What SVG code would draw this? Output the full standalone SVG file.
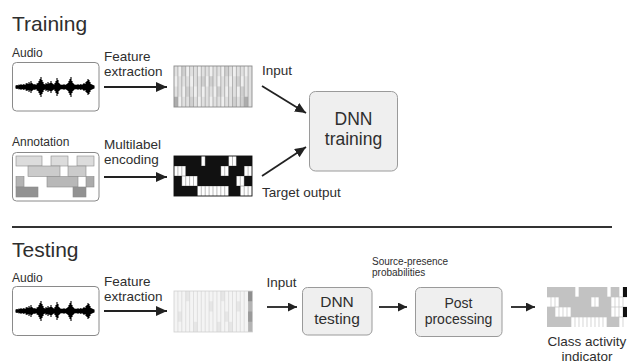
<svg xmlns="http://www.w3.org/2000/svg" width="630" height="363" viewBox="0 0 630 363">
  <style>
    text { font-family: "Liberation Sans", Arial, sans-serif; fill: #2e2e2e; }
    .title { font-size: 21px; }
    .small { font-size: 12px; }
    .lbl { font-size: 13.5px; }
    .tiny { font-size: 10px; }
    .frame { fill: #ffffff; stroke: #8a8a8a; stroke-width: 1; }
    .proc { fill: #efefef; stroke: #9a9a9a; stroke-width: 1; }
    .conn { stroke: #222222; stroke-width: 1.8; fill: none; }
    .big { marker-end: url(#head); }
    .sm { marker-end: url(#headS); }
    .ann { stroke: #8a8a8a; stroke-width: 0.6; }
    .fl { fill: #efefef; }
    .fd { fill: #cfcfcf; }
    .fx { fill: #acacac; }
    .on { fill: #111111; }
    .gr { fill: #c2c2c2; }
  </style>
  <defs>
    <marker id="head" markerUnits="userSpaceOnUse" markerWidth="11" markerHeight="10" refX="11" refY="5" orient="auto">
      <path d="M0,0 L11,5 L0,10 z" fill="#222222"/>
    </marker>
    <marker id="headS" markerUnits="userSpaceOnUse" markerWidth="9" markerHeight="9" refX="9" refY="4.5" orient="auto">
      <path d="M0,0 L9,4.5 L0,9 z" fill="#222222"/>
    </marker>
    <!-- audio waveform drawn around y = 0 -->
    <g id="wave" stroke="#000000" fill="none">
      <path d="M16 0H94" stroke-width="2.4"/>
      <path stroke-width="1.1" d="M16-1.5v3M17-2v4M18-1.5v3M19-2.5v5M20-2v4M21-3v6M22-2v4M23-2.5v5M24-3v6M25-2v4M26-3.5v7M27-4v8M28-3v6M29-5v10M30-3.5v7M31-6v12M32-4v8M33-3v6M34-2.5v5M35-3v6M36-2v4M37-3.5v7M38-4v8M39-6v12M40-8v16M41-10v20M42-7v14M43-5v10M44-3v6M45-2.5v5M46-4v8M47-3v6M48-5v10M49-3.5v7M50-4v8M51-6v12M52-4v8M53-3v6M54-2.5v5M55-4v8M56-6v12M57-9v18M58-7v14M59-4v8M60-3v6M61-2v4M62-2.5v5M63-2v4M64-3v6M65-2v4M66-2.5v5M67-3v6M68-4v8M69-6v12M70-8v16M71-10v20M72-6v12M73-4v8M74-3v6M75-2v4M76-2.5v5M77-2v4M78-3v6M79-2v4M80-2.5v5M81-3v6M82-2v4M83-3v6M84-4v8M85-3v6M86-5v10M87-6v12M88-8v16M89-7v14M90-5v10M91-3v6M92-2.5v5M93-2v4M94-1.5v3"/>
    </g>
  </defs>

  <rect width="630" height="363" fill="#ffffff"/>

  <!-- section headings -->
  <text class="title" x="12" y="31">Training</text>
  <text class="title" x="12" y="257">Testing</text>
  <path d="M12 227H612" stroke="#333333" stroke-width="2"/>

  <!-- training: audio input -->
  <g id="train-audio">
    <text class="small" x="12" y="56.5">Audio</text>
    <rect class="frame" x="12.5" y="62.5" width="86.5" height="48.5" rx="4"/>
    <use href="#wave" transform="translate(0,87)"/>
  </g>

  <!-- training: feature matrix -->
  <g id="train-features">
    <rect x="174" y="66" width="78" height="41" fill="#e0e0e0"/>
    <g class="fl">
      <rect x="177.9" y="66" width="3.9" height="10.25"/><rect x="185.7" y="66" width="3.9" height="10.25"/><rect x="197.4" y="66" width="3.9" height="10.25"/><rect x="209.1" y="66" width="3.9" height="10.25"/><rect x="220.8" y="66" width="3.9" height="10.25"/><rect x="232.5" y="66" width="3.9" height="10.25"/><rect x="244.2" y="66" width="3.9" height="10.25"/>
      <rect x="174" y="76.25" width="3.9" height="10.25"/><rect x="189.6" y="76.25" width="3.9" height="10.25"/><rect x="205.2" y="76.25" width="3.9" height="10.25"/><rect x="216.9" y="76.25" width="3.9" height="10.25"/><rect x="228.6" y="76.25" width="3.9" height="10.25"/><rect x="240.3" y="76.25" width="3.9" height="10.25"/>
      <rect x="181.8" y="86.5" width="3.9" height="10.25"/><rect x="193.5" y="86.5" width="3.9" height="10.25"/><rect x="201.3" y="86.5" width="3.9" height="10.25"/><rect x="213" y="86.5" width="3.9" height="10.25"/><rect x="224.7" y="86.5" width="3.9" height="10.25"/><rect x="236.4" y="86.5" width="3.9" height="10.25"/>
      <rect x="177.9" y="96.75" width="3.9" height="10.25"/><rect x="197.4" y="96.75" width="3.9" height="10.25"/><rect x="209.1" y="96.75" width="3.9" height="10.25"/><rect x="220.8" y="96.75" width="3.9" height="10.25"/>
    </g>
    <g class="fd">
      <rect x="181.8" y="66" width="3.9" height="10.25"/><rect x="224.7" y="66" width="3.9" height="10.25"/>
      <rect x="201.3" y="76.25" width="3.9" height="10.25"/><rect x="209.1" y="76.25" width="3.9" height="10.25"/><rect x="236.4" y="76.25" width="3.9" height="10.25"/>
      <rect x="185.7" y="86.5" width="3.9" height="10.25"/><rect x="216.9" y="86.5" width="3.9" height="10.25"/><rect x="240.3" y="86.5" width="3.9" height="10.25"/>
      <rect x="189.6" y="96.75" width="3.9" height="10.25"/><rect x="232.5" y="96.75" width="3.9" height="10.25"/><rect x="240.3" y="96.75" width="3.9" height="10.25"/>
    </g>
    <g class="fx">
      <rect x="244.2" y="96.75" width="3.9" height="10.25"/><rect x="174" y="96.75" width="3.9" height="10.25"/>
    </g>
    <path stroke="#9c9c9c" stroke-width="0.7" d="M177.9 66v41M181.8 66v41M185.7 66v41M189.6 66v41M193.5 66v41M197.4 66v41M201.3 66v41M205.2 66v41M209.1 66v41M213 66v41M216.9 66v41M220.8 66v41M224.7 66v41M228.6 66v41M232.5 66v41M236.4 66v41M240.3 66v41M244.2 66v41M248.1 66v41"/>
    <rect x="174" y="66" width="78" height="41" fill="none" stroke="#8c8c8c" stroke-width="0.9"/>
  </g>

  <!-- training: annotation -->
  <g id="train-annotation">
    <text class="small" x="12" y="146">Annotation</text>
    <rect class="frame" x="12.5" y="152.5" width="86.5" height="48.5" rx="4"/>
    <g class="ann">
      <rect x="16" y="156" width="26" height="10" fill="#dcdcdc"/>
      <rect x="51" y="156" width="17" height="10" fill="#dcdcdc"/>
      <rect x="77" y="156" width="17" height="10" fill="#dcdcdc"/>
      <rect x="28" y="166" width="32" height="10.5" fill="#cbcbcb"/>
      <rect x="68" y="166" width="18" height="10.5" fill="#cbcbcb"/>
      <rect x="16" y="176.5" width="8" height="10.5" fill="#b4b4b4"/>
      <rect x="47" y="176.5" width="31" height="10.5" fill="#b8b8b8"/>
      <rect x="86" y="176.5" width="8" height="10.5" fill="#ababab"/>
      <rect x="16" y="187" width="22" height="10" fill="#929292"/>
      <rect x="73" y="187" width="13" height="10" fill="#929292"/>
    </g>
  </g>

  <!-- training: multilabel target matrix -->
  <g id="train-targets">
    <rect x="174" y="156" width="78" height="40" fill="#ffffff"/>
    <path stroke="#9c9c9c" stroke-width="0.7" d="M177.9 156v40M181.8 156v40M185.7 156v40M189.6 156v40M193.5 156v40M197.4 156v40M201.3 156v40M205.2 156v40M209.1 156v40M213 156v40M216.9 156v40M220.8 156v40M224.7 156v40M228.6 156v40M232.5 156v40M236.4 156v40M240.3 156v40M244.2 156v40M248.1 156v40M174 166h78M174 176h78M174 186h78"/>
    <g class="on">
      <rect x="174" y="156" width="27.3" height="10"/><rect x="205.2" y="156" width="23.4" height="10"/><rect x="236.4" y="156" width="15.6" height="10"/>
      <rect x="185.7" y="166" width="35.1" height="10"/><rect x="228.6" y="166" width="15.6" height="10"/>
      <rect x="174" y="176" width="7.8" height="10"/><rect x="197.4" y="176" width="39" height="10"/><rect x="244.2" y="176" width="7.8" height="10"/>
      <rect x="174" y="186" width="23.4" height="10"/><rect x="228.6" y="186" width="11.7" height="10"/>
    </g>
    <rect x="174" y="156" width="78" height="40" fill="none" stroke="#111111" stroke-width="0.9"/>
  </g>

  <!-- training: network -->
  <g id="train-dnn">
    <rect class="proc" x="309.5" y="91.5" width="88" height="79.5" rx="6"/>
    <text x="353.5" y="125" text-anchor="middle" style="font-size:17.5px">DNN</text>
    <text x="353.5" y="145" text-anchor="middle" style="font-size:17.5px">training</text>
  </g>

  <!-- testing: audio input -->
  <g id="test-audio">
    <text class="small" x="12" y="282">Audio</text>
    <rect class="frame" x="12.5" y="286.5" width="86.5" height="49" rx="4"/>
    <use href="#wave" transform="translate(0,311)"/>
  </g>

  <!-- testing: feature matrix -->
  <g id="test-features">
    <rect x="174" y="291" width="78" height="41" fill="#f4f4f4"/>
    <g fill="#e6e6e6">
      <rect x="185.7" y="291" width="3.9" height="10.25"/><rect x="220.8" y="291" width="3.9" height="10.25"/>
      <rect x="209.1" y="301.25" width="3.9" height="10.25"/><rect x="236.4" y="301.25" width="3.9" height="10.25"/>
      <rect x="177.9" y="311.5" width="3.9" height="10.25"/><rect x="224.7" y="311.5" width="3.9" height="10.25"/>
      <rect x="193.5" y="321.75" width="3.9" height="10.25"/><rect x="216.9" y="321.75" width="3.9" height="10.25"/><rect x="228.6" y="321.75" width="3.9" height="10.25"/>
    </g>
    <path stroke="#d6d6d6" stroke-width="0.7" d="M177.9 291v41M181.8 291v41M185.7 291v41M189.6 291v41M193.5 291v41M197.4 291v41M201.3 291v41M205.2 291v41M209.1 291v41M213 291v41M216.9 291v41M220.8 291v41M224.7 291v41M228.6 291v41M232.5 291v41M236.4 291v41M240.3 291v41M244.2 291v41"/>
    <rect x="248.1" y="291" width="4.4" height="41" fill="#b4b4b4"/>
    <rect x="248.1" y="291" width="4.4" height="10.25" fill="#8e8e8e"/>
    <rect x="248.1" y="311.5" width="4.4" height="10.25" fill="#9a9a9a"/>
    <rect x="174" y="291" width="78.5" height="41" fill="none" stroke="#cfcfcf" stroke-width="0.8"/>
  </g>

  <!-- testing: network -->
  <g id="test-dnn">
    <rect class="proc" x="302.5" y="287.5" width="69.5" height="47.5" rx="5"/>
    <text x="337" y="306.5" text-anchor="middle" style="font-size:15.5px">DNN</text>
    <text x="337" y="324" text-anchor="middle" style="font-size:15.5px">testing</text>
  </g>

  <!-- testing: post processing -->
  <g id="test-post">
    <rect class="proc" x="415.5" y="287.5" width="86.5" height="49" rx="5"/>
    <text x="458.5" y="307.5" text-anchor="middle" style="font-size:14px">Post</text>
    <text x="458.5" y="324" text-anchor="middle" style="font-size:14px">processing</text>
  </g>

  <!-- testing: class activity output -->
  <g id="test-output">
    <rect x="547" y="287" width="80" height="40" fill="#ffffff"/>
    <path stroke="#c4c4c4" stroke-width="0.7" d="M551 287v40M555 287v40M559 287v40M563 287v40M567 287v40M571 287v40M575 287v40M579 287v40M583 287v40M587 287v40M591 287v40M595 287v40M599 287v40M603 287v40M607 287v40M611 287v40M615 287v40M619 287v40M623 287v40M547 297h80M547 307h80M547 317h80"/>
    <g class="gr">
      <rect x="547" y="287" width="28" height="10"/><rect x="579" y="287" width="28" height="10"/><rect x="611" y="287" width="8" height="10"/>
      <rect x="559" y="297" width="32" height="10"/><rect x="599" y="297" width="12" height="10"/>
      <rect x="547" y="307" width="8" height="10"/><rect x="571" y="307" width="40" height="10"/>
      <rect x="547" y="317" width="24" height="10"/><rect x="607" y="317" width="12" height="10"/>
    </g>
    <rect x="623" y="287" width="4" height="10" class="on"/>
    <rect x="623" y="307" width="4" height="10" class="on"/>
    <text class="lbl" x="587" y="346" text-anchor="middle">Class activity</text>
    <text class="lbl" x="587" y="361.2" text-anchor="middle">indicator</text>
  </g>

  <!-- connectors and their labels -->
  <g id="connectors">
    <path class="conn big" d="M104 87H167"/>
    <text class="lbl" x="104" y="61">Feature</text>
    <text class="lbl" x="104" y="76.2">extraction</text>

    <path class="conn big" d="M104 177H167"/>
    <text class="lbl" x="104" y="148.5">Multilabel</text>
    <text class="lbl" x="104" y="163.7">encoding</text>

    <path class="conn big" d="M262 86L306 113"/>
    <text class="lbl" x="262" y="75">Input</text>

    <path class="conn big" d="M262 176L306 147"/>
    <text class="lbl" x="262" y="197">Target output</text>

    <path class="conn big" d="M104 311H167"/>
    <text class="lbl" x="104" y="285.5">Feature</text>
    <text class="lbl" x="104" y="300.7">extraction</text>

    <path class="conn sm" d="M267 307H297"/>
    <text class="lbl" x="266.5" y="287">Input</text>

    <path class="conn sm" d="M379 307H407"/>
    <text class="tiny" x="372" y="265">Source-presence</text>
    <text class="tiny" x="372" y="276.3">probabilities</text>

    <path class="conn sm" d="M511 307H535"/>
  </g>
</svg>
